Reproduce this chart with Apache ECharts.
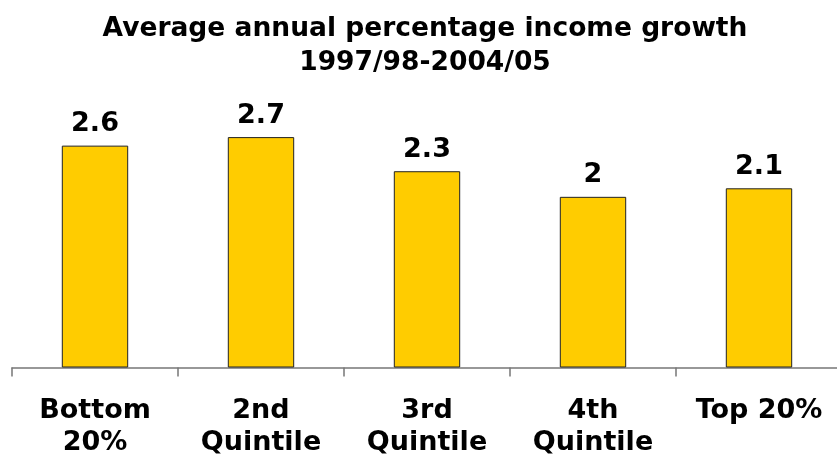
<!DOCTYPE html>
<html>
<head>
<meta charset="utf-8">
<script src="https://cdn.jsdelivr.net/npm/echarts@6/dist/echarts.min.js"></script>
<style>
html,body{margin:0;padding:0;background:#fff;}
#chart{width:837px;height:454px;}
</style>
</head>
<body>
<div id="chart"></div>
<script>
var titleLines = ['Average annual percentage income growth', '1997/98-2004/05'];
var categories = ['Bottom\n20%', '2nd\nQuintile', '3rd\nQuintile', '4th\nQuintile', 'Top 20%'];
var values = [2.6, 2.7, 2.3, 2, 2.1];

var FONT = 'DejaVu Sans';
var chart = echarts.init(document.getElementById('chart'));
chart.setOption({
  animation: false,
  backgroundColor: '#ffffff',
  title: {
    text: titleLines.join('\n'),
    left: 425,
    top: 12,
    padding: 0,
    textAlign: 'center',
    textStyle: {
      fontFamily: FONT,
      fontWeight: 'bold',
      fontSize: 26.5,
      lineHeight: 34,
      color: '#000'
    }
  },
  grid: {
    left: 12,
    width: 830,
    top: 111.5,
    bottom: 86.5,
    containLabel: false,
    outerBoundsMode: 'none'
  },
  xAxis: {
    type: 'category',
    data: categories,
    axisLine: { show: true, lineStyle: { color: '#777', width: 1.5 } },
    axisTick: { show: true, length: 9, lineStyle: { color: '#777', width: 1.5 } },
    axisLabel: {
      interval: 0,
      margin: 27,
      fontFamily: FONT,
      fontWeight: 'bold',
      fontSize: 27,
      lineHeight: 32,
      color: '#000'
    }
  },
  yAxis: {
    type: 'value',
    min: 0,
    max: 3,
    show: false,
    splitLine: { show: false }
  },
  series: [{
    type: 'bar',
    data: values,
    barWidth: '40%',
    itemStyle: { color: '#FFCC00', borderColor: '#222', borderWidth: 1 },
    label: {
      show: true,
      position: 'top',
      distance: 8,
      fontFamily: FONT,
      fontWeight: 'bold',
      fontSize: 27,
      color: '#000'
    }
  }]
});
</script>
</body>
</html>
